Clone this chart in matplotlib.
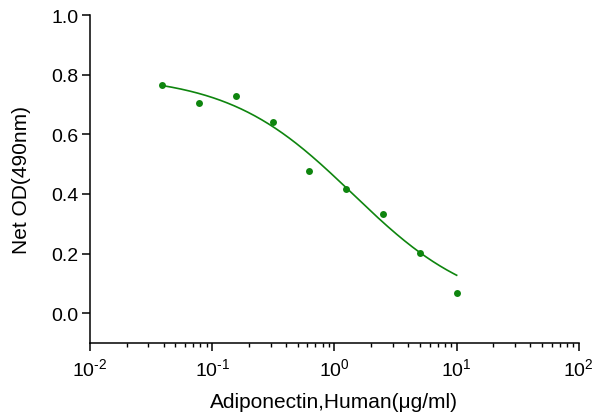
import numpy as np
import matplotlib
matplotlib.use("Agg")
import matplotlib.pyplot as plt
from matplotlib.ticker import LogLocator, FixedLocator, NullFormatter, FuncFormatter

plt.rcParams['font.family'] = ['Liberation Sans', 'DejaVu Sans']
plt.rcParams['mathtext.fontset'] = 'custom'
plt.rcParams['mathtext.rm'] = 'Liberation Sans'
plt.rcParams['mathtext.it'] = 'Liberation Sans'

conc = [0.039, 0.078, 0.156, 0.3125, 0.625, 1.25, 2.5, 5.0, 10.0]
od = [0.765, 0.705, 0.730, 0.642, 0.478, 0.416, 0.334, 0.202, 0.069]
# 4-parameter logistic fit
fit_top = 0.80
fit_bottom = 0.0
fit_log_ec50 = 0.15
fit_hill = 0.85
y_ticks = [0.0, 0.2, 0.4, 0.6, 0.8, 1.0]
x_label = "Adiponectin,Human(μg/ml)"
y_label = "Net OD(490nm)"
green = "#0e850e"

x = np.array(conc)
y = np.array(od)

def model(lx):
    return fit_bottom + (fit_top - fit_bottom) / (1 + 10 ** ((lx - fit_log_ec50) * fit_hill))

xf = np.logspace(np.log10(x.min()), np.log10(x.max()), 300)
yf = model(np.log10(xf))

def fmt_pow(v, pos):
    e = int(round(np.log10(v)))
    s = str(abs(e))
    if e < 0:
        s = "\u2010" + s
    return r"$\mathregular{10^{%s}}$" % s

fig = plt.figure(figsize=(5.98, 4.14), dpi=100)
ax = fig.add_axes([0.1505, 0.169, 0.8175, 0.792])
ax.plot(xf, yf, color=green, lw=1.2)
ax.plot(x, y, 'o', color=green, ms=5, mec='none')

ax.set_xscale('log')
ax.set_xlim(0.01, 100)
ax.set_ylim(-0.1, 1.0)
ax.yaxis.set_major_locator(FixedLocator(y_ticks))
ax.yaxis.set_major_formatter(FuncFormatter(lambda v, pos: f"{v:.1f}"))
ax.xaxis.set_major_locator(LogLocator(base=10, numticks=10))
ax.xaxis.set_minor_locator(LogLocator(base=10, subs=np.arange(2, 10), numticks=20))
ax.xaxis.set_minor_formatter(NullFormatter())
ax.xaxis.set_major_formatter(FuncFormatter(fmt_pow))

for s in ['top', 'right']:
    ax.spines[s].set_visible(False)
for s in ['left', 'bottom']:
    ax.spines[s].set_linewidth(1.1)
ax.tick_params(axis='both', which='major', direction='out', length=5.5, width=1.1, labelsize=14, pad=3)
ax.tick_params(axis='x', which='minor', direction='out', length=3, width=1.0)
ax.tick_params(axis='x', which='major', pad=5)

ax.set_xlabel(x_label, fontsize=15, labelpad=9)
ax.set_ylabel(y_label, fontsize=15, labelpad=14)

fig.savefig("out.png", dpi=100)
